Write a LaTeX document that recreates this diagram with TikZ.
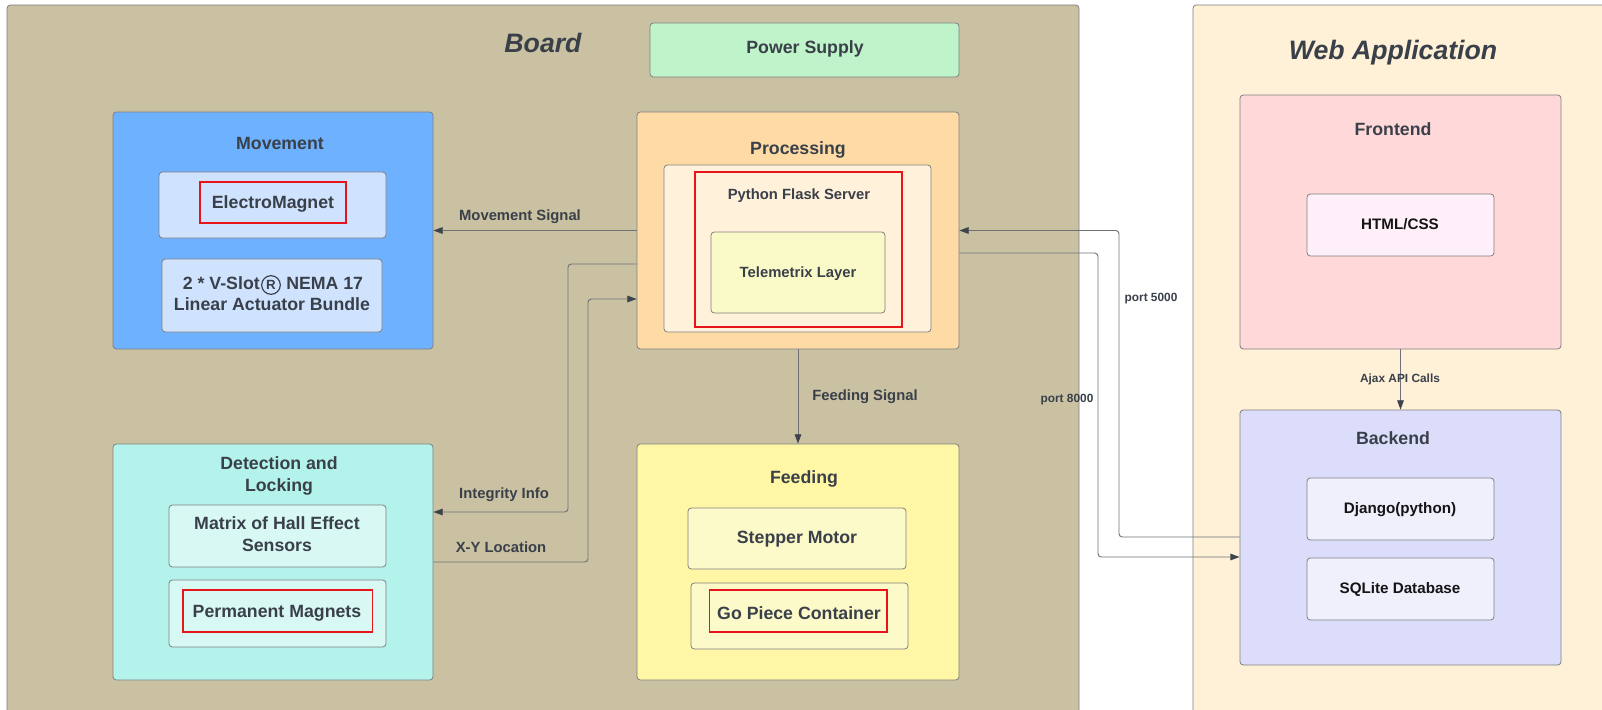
\documentclass[tikz,border=0pt]{standalone}
\usepackage{fontspec}
\setmainfont{Liberation Sans}
\usetikzlibrary{arrows.meta,fit}
\definecolor{boardc}{HTML}{C9C1A2}
\definecolor{webc}{HTML}{FEF1D8}
\definecolor{powc}{HTML}{BFF3C9}
\definecolor{procc}{HTML}{FEDBA5}
\definecolor{flaskc}{HTML}{FFF1DA}
\definecolor{telec}{HTML}{FAFAC9}
\definecolor{movc}{HTML}{6DB1FF}
\definecolor{movin}{HTML}{CFE3FF}
\definecolor{detc}{HTML}{B4F3EC}
\definecolor{detin}{HTML}{D8F8F4}
\definecolor{feedc}{HTML}{FFF6A6}
\definecolor{feedin}{HTML}{FCFAC9}
\definecolor{frontc}{HTML}{FFD8D9}
\definecolor{htmlc}{HTML}{FFEFF8}
\definecolor{backc}{HTML}{DCDDFB}
\definecolor{backin}{HTML}{F0F0FD}
\definecolor{txt}{HTML}{3A4049}
\definecolor{txtb}{HTML}{141414}
\definecolor{boxline}{HTML}{808080}
\definecolor{lnc}{HTML}{6E7278}
\definecolor{tipc}{HTML}{3E444C}
\definecolor{redc}{HTML}{E8141B}
\begin{document}
\begin{tikzpicture}[x=0.75pt,y=-0.75pt,
  box/.style={draw=boxline, line width=0.6pt, rounded corners=2.5pt, inner sep=0pt},
  redbox/.style={draw=redc, line width=1.3pt, inner sep=0pt},
  bigttl/.style={font=\bfseries\itshape\fontsize{20}{24}\selectfont, text=txt, inner sep=0pt, text height=14.3pt, text depth=0pt},
  ttl/.style={font=\bfseries\fontsize{13.3}{16.2}\selectfont, text=txt, align=center, inner sep=0pt},
  ttlone/.style={font=\bfseries\fontsize{13.3}{16.2}\selectfont, text=txt, inner sep=0pt, text height=9.5pt, text depth=0pt},
  midttl/.style={font=\bfseries\fontsize{11.1}{13}\selectfont, text=txt, inner sep=0pt, text height=7.95pt, text depth=0pt},
  lbl/.style={midttl},
  small/.style={font=\bfseries\fontsize{8.9}{10.5}\selectfont, text=txt, inner sep=0pt, text height=6.4pt, text depth=0pt},
  blk/.style={font=\bfseries\fontsize{11.4}{13.5}\selectfont, text=txtb, inner sep=0pt, text height=8.2pt, text depth=0pt},
  regmark/.style={circle, draw=txt, line width=0.9pt, minimum size=14pt, inner sep=0pt, font=\bfseries\fontsize{10}{10}\selectfont, text=txt},
  conn/.style={draw=lnc, line width=0.7pt, rounded corners=2.5pt},
  arr/.style={conn, -{Triangle[length=7pt,width=5pt,color=tipc]}},
]
\clip (0,0) rectangle (1602,710);
\fill[white] (0,0) rectangle (1602,710);

% containers
\node[box, fill=boardc, fit={(7,5) (1079,740)}] (board) {};
\node[box, fill=webc, fit={(1193,5) (1640,740)}] (web) {};
\node[bigttl] (boardt) at (543,43) {Board};
\node[bigttl] (webt) at (1393,50) {Web Application};

% power
\node[box, fill=powc, fit={(650,23) (959,77)}] (pow) {};
\node[ttlone] (powt) at (805,47) {Power Supply};

% processing
\node[box, fill=procc, fit={(637,112) (959,349)}] (proc) {};
\node[ttlone] (proct) at (798,148) {Processing};
\node[box, fill=flaskc, fit={(664,165) (931,332)}] (flask) {};
\node[redbox, fit={(695,172) (902,327)}] (flaskr) {};
\node[midttl] (flaskt) at (799,194) {Python Flask Server};
\node[box, fill=telec, fit={(711,232) (885,313)}] (tele) {};
\node[midttl] (telet) at (798,272) {Telemetrix Layer};

% movement
\node[box, fill=movc, fit={(113,112) (433,349)}] (mov) {};
\node[ttlone] (movt) at (280,143) {Movement};
\node[box, fill=movin, fit={(159,172) (386,238)}] (em) {};
\node[redbox, fit={(200,182) (346,223)}] (emr) {};
\node[ttlone] (emt) at (273,202) {ElectroMagnet};
\node[box, fill=movin, fit={(162,259) (382,332)}] (vslot) {};
\node[ttlone, anchor=east] (vs1) at (260,283) {2 * V-Slot};
\node[regmark] (reg) at (271,285) {R};
\node[ttlone, anchor=west] (vs2) at (286,283) {NEMA 17};
\node[ttlone] (vs3) at (272,304) {Linear Actuator Bundle};

% detection
\node[box, fill=detc, fit={(113,444) (433,680)}] (det) {};
\node[ttl, font=\bfseries\fontsize{13.3}{16.5}\selectfont] (dett) at (279,476) {Detection and\\Locking};
\node[box, fill=detin, fit={(169,505) (386,567)}] (hall) {};
\node[ttl] (hallt) at (277,534) {Matrix of Hall Effect\\Sensors};
\node[box, fill=detin, fit={(169,580) (386,647)}] (perm) {};
\node[redbox, fit={(183,590) (372.5,632)}] (permr) {};
\node[ttlone] (permt) at (277,611) {Permanent Magnets};

% feeding
\node[box, fill=feedc, fit={(637,444) (959,680)}] (feed) {};
\node[ttlone] (feedt) at (804,477) {Feeding};
\node[box, fill=feedin, fit={(688,508) (906,569)}] (step) {};
\node[ttlone] (stept) at (797,537) {Stepper Motor};
\node[box, fill=feedin, fit={(691,583) (908,649)}] (gopc) {};
\node[redbox, fit={(709.5,590) (887,632)}] (gopr) {};
\node[ttlone] (gopt) at (799,613) {Go Piece Container};

% frontend / backend
\node[box, fill=frontc, fit={(1240,95) (1561,349)}] (front) {};
\node[ttlone] (frontt) at (1393,129) {Frontend};
\node[box, fill=htmlc, fit={(1307,194) (1494,256)}] (html) {};
\node[blk] (htmlt) at (1400,224) {HTML/CSS};
\node[box, fill=backc, fit={(1240,410) (1561,665)}] (back) {};
\node[ttlone] (backt) at (1393,438) {Backend};
\node[box, fill=backin, fit={(1307,478) (1494,540)}] (django) {};
\node[blk] (djangot) at (1400,508) {Django(python)};
\node[box, fill=backin, fit={(1307,558) (1494,620)}] (sqlite) {};
\node[blk] (sqlitet) at (1400,588) {SQLite Database};

% connectors
\coordinate (ia) at (568,264);
\coordinate (ib) at (568,512);
\coordinate (xa) at (588,562);
\coordinate (xb) at (588,299);
\coordinate (p5) at (1119,537);
\coordinate (p8a) at (1098,253);
\coordinate (p8) at (1098,557);

\draw[arr] (proc.west) -- (mov.east);
\draw[arr] (proc.west |- ia) -- (ia) -- (ib) -- (det.east |- ib);
\draw[arr] (det.east |- xa) -- (xa) -- (xb) -- (proc.west |- xb);
\draw[arr] (proc.south) -- (feed.north);
\draw[arr] (back.west |- p5) -- (p5) |- (proc.east);
\draw[arr] (proc.east |- p8a) -- (p8a) -- (p8) -- (back.west |- p8);
\draw[arr] (front.south) -- (back.north);

% labels
\node[lbl] (lms) at (520,215) {Movement Signal};
\node[lbl] (lii) at (504,493) {Integrity Info};
\node[lbl] (lxy) at (501,547) {X-Y Location};
\node[lbl] (lfs) at (865,395) {Feeding Signal};
\node[small] (l5) at (1151,297) {port 5000};
\node[small] (l8) at (1067,398) {port 8000};
\node[small] (lajax) at (1400,378) {Ajax API Calls};
\end{tikzpicture}
\end{document}
